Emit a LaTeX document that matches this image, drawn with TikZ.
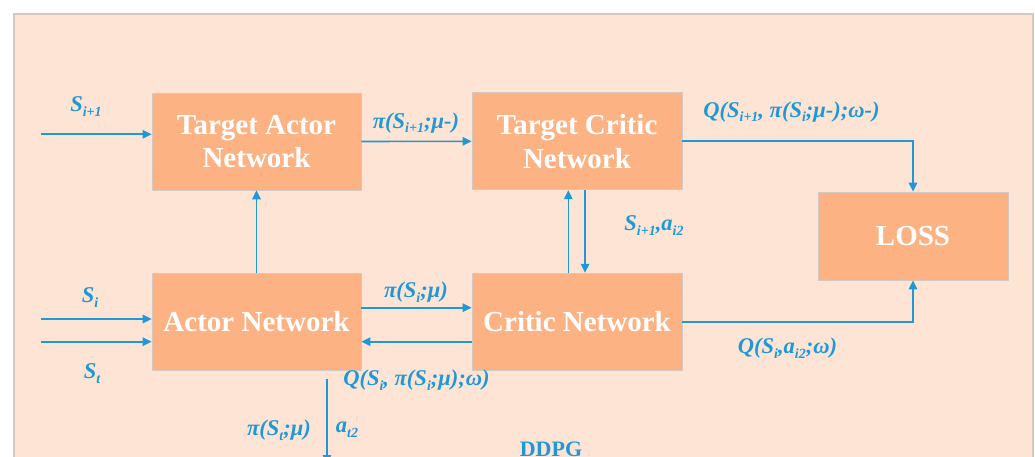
\documentclass[tikz,border=0pt]{standalone}
\usepackage{fontspec}
\setmainfont{Liberation Serif}
\usetikzlibrary{arrows.meta}

\definecolor{pagebg}{RGB}{253,228,212}
\definecolor{boxfill}{RGB}{252,178,130}
\definecolor{boxline}{RGB}{212,200,192}
\definecolor{flow}{RGB}{30,152,214}

% lowered, smaller index text inside a label
\newcommand{\lo}[1]{\raisebox{-0.22em}{\fontsize{14}{14}\selectfont #1}}

\tikzset{
  netbox/.style={rectangle, draw=boxline, line width=0.8pt, fill=boxfill,
    text=white, font=\fontsize{29}{33.7}\selectfont\bfseries,
    align=center, inner sep=0pt, minimum width=209pt, minimum height=97pt},
  sig/.style={text=flow, font=\fontsize{22.5}{24}\selectfont\bfseries\itshape,
    inner sep=0pt},
  flowline/.style={draw=flow, line width=1.6pt,
    -{Triangle[length=9pt,width=8.5pt]}},
}

\begin{document}
\begin{tikzpicture}[x=1pt,y=-1pt]
\useasboundingbox (0,0) rectangle (1035,457);
\fill[white] (0,0) rectangle (1035,457);
\draw[fill=pagebg, draw=boxline, line width=1.5pt] (14,14) rectangle (1033,475);

% network blocks
\node[netbox] (ta) at (256.5,141.5) {Target Actor\\Network};
\node[netbox, minimum width=210pt] (tc) at (577,141.3) {Target Critic\\Network};
\node[netbox, minimum width=190pt, minimum height=88pt] (loss) at (913,236) {LOSS};
\node[netbox] (an) at (256.5,321.7) {Actor Network};
\node[netbox, minimum width=210pt] (cn) at (577,321.7) {Critic Network};

% free ends of the inputs and the output
\coordinate (sin1) at (41,134.3);
\coordinate (sin2) at (41,319);
\coordinate (sin3) at (41,341.7);
\coordinate (out1) at (327,379.3);
\coordinate (out2) at (327,464);

% connectors
\draw[flowline] (sin1) -- (sin1 -| ta.west);
\draw[flowline] (ta.east) -- (tc.west);
\draw[flowline] (tc.east) -| (loss.north);
\draw[flowline] (an.north) -- (ta.south);
\draw[flowline] ([xshift=-8.7pt]cn.north) -- ([xshift=-8.7pt]tc.south);
\draw[flowline] ([xshift=8pt]tc.south) -- ([xshift=8pt]cn.north);
\draw[flowline] (sin2) -- (sin2 -| an.west);
\draw[flowline] (sin3) -- (sin3 -| an.west);
\draw[flowline] ([yshift=14pt]an.east) -- ([yshift=14pt]cn.west);
\draw[flowline] ([yshift=-20pt]cn.west) -- ([yshift=-20pt]an.east);
\draw[flowline] (cn.east) -| (loss.south);
\draw[flowline] (out1) -- (out2);

% signal labels
\node[sig] (lsip1) at (86,107) {S\lo{i+1}};
\node[sig] (lpit) at (416,122.7) {π(S\lo{i+1};μ-)};
\node[sig] (lqt) at (791.5,111.7) {Q(S\lo{i+1}, π(S\lo{i};μ-);ω-)};
\node[sig] (lsa) at (654,225.7) {S\lo{i+1},a\lo{i2}};
\node[sig] (lsi) at (90,298) {S\lo{i}};
\node[sig] (lst) at (92,373.3) {S\lo{t}};
\node[sig] (lpi) at (416,292) {π(S\lo{i};μ)};
\node[sig] (lq) at (416.5,380) {Q(S\lo{i}, π(S\lo{i};μ);ω)};
\node[sig] (lqa) at (787.5,348) {Q(S\lo{i},a\lo{i2};ω)};
\node[sig] (lpo) at (279,430) {π(S\lo{t};μ)};
\node[sig] (lat) at (347,430) {a\lo{t2}};
\node[text=flow, font=\fontsize{22}{22}\selectfont\bfseries, anchor=base] (ddpg) at (551,456.5) {DDPG};
\end{tikzpicture}
\end{document}
